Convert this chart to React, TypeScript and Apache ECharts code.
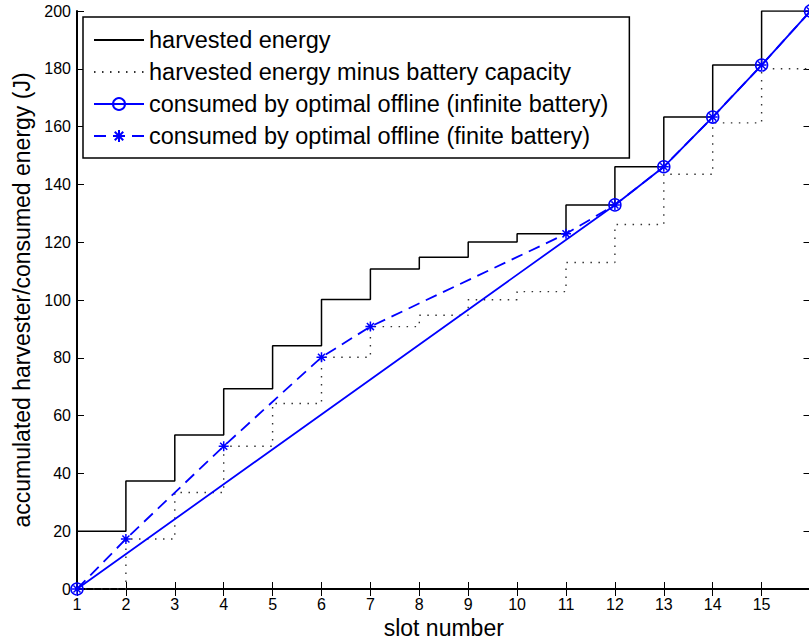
import React, { useEffect, useRef } from "react";
import * as echarts from "echarts";

// slot numbers (x axis)
const slots = [1, 2, 3, 4, 5, 6, 7, 8, 9, 10, 11, 12, 13, 14, 15, 16];
// accumulated harvested energy (J), value held from slot i to slot i+1
const harvested = [20, 37.4, 53.3, 69.3, 84.2, 100.2, 110.7, 114.8, 120.1, 122.9, 132.9, 146.1, 163.3, 181.3, 200, 200];
// harvested energy minus battery capacity (J)
const harvestedMinusCapacity = [0, 17.3, 33.4, 49.4, 64.2, 80.2, 90.8, 94.7, 100.1, 102.9, 113, 126.1, 143.5, 161.3, 180, 180];
// consumed by optimal offline (infinite battery)
const infiniteSlots = [1, 12, 13, 14, 15, 16];
const infiniteValues = [0, 132.9, 146.1, 163.3, 181.3, 200];
// consumed by optimal offline (finite battery)
const finiteSlots = [1, 2, 4, 6, 7, 11, 12, 13, 14, 15, 16];
const finiteValues = [0, 17.3, 49.4, 80.2, 90.8, 122.9, 132.9, 146.1, 163.3, 181.3, 200];

const seriesNames = [
  "harvested energy",
  "harvested energy minus battery capacity",
  "consumed by optimal offline (infinite battery)",
  "consumed by optimal offline (finite battery)",
];

const FONT = "'Liberation Sans', Arial, Helvetica, sans-serif";
const BLUE = "#0000ff";
const STAR = "path://M0,-10L0,10M-10,0L10,0M-7.07,-7.07L7.07,7.07M-7.07,7.07L7.07,-7.07";
const CLEAR = "rgba(255,255,255,0)";

const pair = (xs: number[], ys: number[]) => xs.map((x, i) => [x, ys[i]]);

export default function App() {
  const ref = useRef<HTMLDivElement>(null);

  useEffect(() => {
    if (!ref.current) return;
    const chart = echarts.init(ref.current, null, { renderer: "svg" });

    const axisLine = { show: true, lineStyle: { color: "#000", width: 2 } };
    const axisTick = { show: true, inside: true, length: 7, lineStyle: { color: "#000", width: 1 } };

    chart.setOption({
      animation: false,
      backgroundColor: "#fff",
      textStyle: { fontFamily: FONT },
      grid: {
        left: 77,
        top: 11,
        width: 733.5,
        height: 578,
        containLabel: false,
        outerBoundsMode: "none",
      },
      legend: {
        orient: "vertical",
        left: 83,
        top: 17,
        padding: [11, 21, 10, 10],
        itemGap: 8,
        itemWidth: 50,
        itemHeight: 15,
        borderColor: "#000",
        borderWidth: 1.5,
        backgroundColor: "#fff",
        selectedMode: false,
        textStyle: { fontSize: 23.5, color: "#000", fontFamily: FONT },
        data: seriesNames,
      },
      xAxis: [
        {
          type: "value",
          min: 1,
          max: 16,
          interval: 1,
          position: "bottom",
          axisLine,
          axisTick,
          splitLine: { show: false },
          axisLabel: {
            color: "#000",
            fontSize: 16,
            margin: 7,
            fontFamily: FONT,
            formatter: (v: number) => (v === 16 ? "" : String(v)),
          },
          name: "slot number",
          nameLocation: "middle",
          nameGap: 25,
          nameTextStyle: { fontSize: 23, color: "#000", fontFamily: FONT },
        },
        {
          type: "value",
          min: 1,
          max: 16,
          interval: 1,
          position: "top",
          axisLine,
          axisTick,
          splitLine: { show: false },
          axisLabel: { show: false },
        },
      ],
      yAxis: [
        {
          type: "value",
          min: 0,
          max: 200,
          interval: 20,
          position: "left",
          axisLine,
          axisTick,
          splitLine: { show: false },
          axisLabel: { color: "#000", fontSize: 16, margin: 6, fontFamily: FONT },
          name: "accumulated harvester/consumed energy (J)",
          nameLocation: "middle",
          nameGap: 37,
          nameTextStyle: { fontSize: 23, color: "#000", fontFamily: FONT },
        },
        {
          type: "value",
          min: 0,
          max: 200,
          interval: 20,
          position: "right",
          axisLine,
          axisTick,
          splitLine: { show: false },
          axisLabel: { show: false },
        },
      ],
      series: [
        {
          name: seriesNames[0],
          type: "line",
          step: "end",
          data: pair(slots, harvested),
          symbol: "none",
          showSymbol: false,
          silent: true,
          lineStyle: { color: "#000", width: 1.5 },
          itemStyle: { color: CLEAR, borderWidth: 0 },
        },
        {
          name: seriesNames[1],
          type: "line",
          step: "end",
          data: pair(slots, harvestedMinusCapacity),
          symbol: "none",
          showSymbol: false,
          silent: true,
          lineStyle: { color: "#333", width: 1.4, type: [1.5, 6.5] },
          itemStyle: { color: CLEAR, borderWidth: 0 },
        },
        {
          name: seriesNames[2],
          type: "line",
          data: pair(infiniteSlots, infiniteValues),
          symbol: "circle",
          symbolSize: 12,
          silent: true,
          lineStyle: { color: BLUE, width: 1.8 },
          itemStyle: { color: CLEAR, borderColor: BLUE, borderWidth: 1.5 },
        },
        {
          name: seriesNames[3],
          type: "line",
          data: pair(finiteSlots, finiteValues),
          symbol: STAR,
          symbolSize: 10,
          silent: true,
          lineStyle: { color: BLUE, width: 1.8, type: [12, 7] },
          itemStyle: { color: BLUE, borderColor: BLUE, borderWidth: 1.5 },
        },
      ],
    });

    return () => chart.dispose();
  }, []);

  return (
    <div
      ref={ref}
      style={{ position: "fixed", left: 0, top: 0, width: 809, height: 641, background: "#fff" }}
    />
  );
}
